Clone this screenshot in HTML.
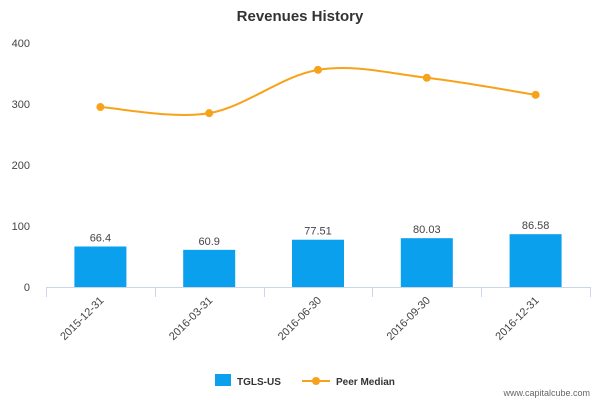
<!DOCTYPE html>
<html><head><meta charset="utf-8"><style>
body{margin:0;background:#fff;}
svg{display:block;font-family:"Liberation Sans",sans-serif;}
</style></head><body>
<svg id="chart" width="600" height="400">
<text x="300" y="21" text-anchor="middle" font-size="15" font-weight="bold" fill="#333">Revenues History</text>
<g id="yaxis"></g>
<g id="xaxis"></g>
<g id="bars"></g>
<g id="line"></g>
<g>
<g><rect x="215" y="374" width="16" height="12" fill="#0aa0ee"/><text x="237" y="385" font-size="10" font-weight="bold" fill="#333">TGLS-US</text></g>
<g><line x1="302" y1="381" x2="330" y2="381" stroke="#f8a21a" stroke-width="2"/><circle cx="316" cy="381" r="4" fill="#f8a21a"/><text x="336" y="385" font-size="10" font-weight="bold" fill="#333">Peer Median</text></g>
</g>
<text x="590" y="396" text-anchor="end" font-size="9" fill="#666">www.capitalcube.com</text>
</svg>
<script>
const categories=["2015-12-31","2016-03-31","2016-06-30","2016-09-30","2016-12-31"];
const revenues=[66.4,60.9,77.51,80.03,86.58];
const revenueLabels=["66.4","60.9","77.51","80.03","86.58"];
const peerMedian=[295,285,356,343,315];
const yTicks=[0,100,200,300,400];
const NS="http://www.w3.org/2000/svg";
const x0=46,x1=590,yBase=287,yTop=43,yMax=400;
const band=(x1-x0)/categories.length;
const xC=i=>x0+band*(i+0.5);
const yS=v=>yBase-(v/yMax)*(yBase-yTop);
function mk(tag,attrs,parent,text){const e=document.createElementNS(NS,tag);for(const k in attrs)e.setAttribute(k,attrs[k]);if(text!==undefined)e.textContent=text;parent.appendChild(e);return e;}
const ya=document.getElementById('yaxis');
yTicks.forEach(t=>{const e=mk('text',{x:30,y:yS(t)+4,'text-anchor':'end','font-size':11,fill:'#444'},ya,String(t));

});
const xa=document.getElementById('xaxis');
mk('line',{x1:x0,y1:yBase+0.5,x2:x1,y2:yBase+0.5,stroke:'#ccd6eb'},xa);
for(let i=0;i<=categories.length;i++){const x=Math.round(x0+band*i)+0.5;mk('line',{x1:x,y1:yBase,x2:x,y2:yBase+10,stroke:'#ccd6eb'},xa);}
categories.forEach((c,i)=>{const x=xC(i)+4,y=yBase+14;const e=mk('text',{x:x,y:y,'text-anchor':'end','font-size':11,fill:'#444',transform:`rotate(-45 ${x} ${y})`},xa,c);

});
const bg=document.getElementById('bars');
revenues.forEach((v,i)=>{const w=52;const r=mk('rect',{x:xC(i)-w/2,y:yS(v),width:w,height:yBase-yS(v),fill:'#0aa0ee'},bg);


const t=mk('text',{x:xC(i),y:yS(v)-5,'text-anchor':'middle','font-size':11,fill:'#444'},bg,revenueLabels[i]);

});
const lg=document.getElementById('line');
const pts=peerMedian.map((v,i)=>[xC(i),yS(v)]);
let d=`M${pts[0][0]},${pts[0][1]}`;
for(let i=0;i<pts.length-1;i++){const p0=pts[Math.max(0,i-1)],p1=pts[i],p2=pts[i+1],p3=pts[Math.min(pts.length-1,i+2)];const k=1/6;
d+=` C${p1[0]+(p2[0]-p0[0])*k},${p1[1]+(p2[1]-p0[1])*k} ${p2[0]-(p3[0]-p1[0])*k},${p2[1]-(p3[1]-p1[1])*k} ${p2[0]},${p2[1]}`;}
const path=mk('path',{d:d,fill:'none',stroke:'#f8a21a','stroke-width':2},lg);


pts.forEach((p,i)=>{const c=mk('circle',{cx:p[0],cy:p[1],r:4,fill:'#f8a21a'},lg);

});
</script>
</body></html>
